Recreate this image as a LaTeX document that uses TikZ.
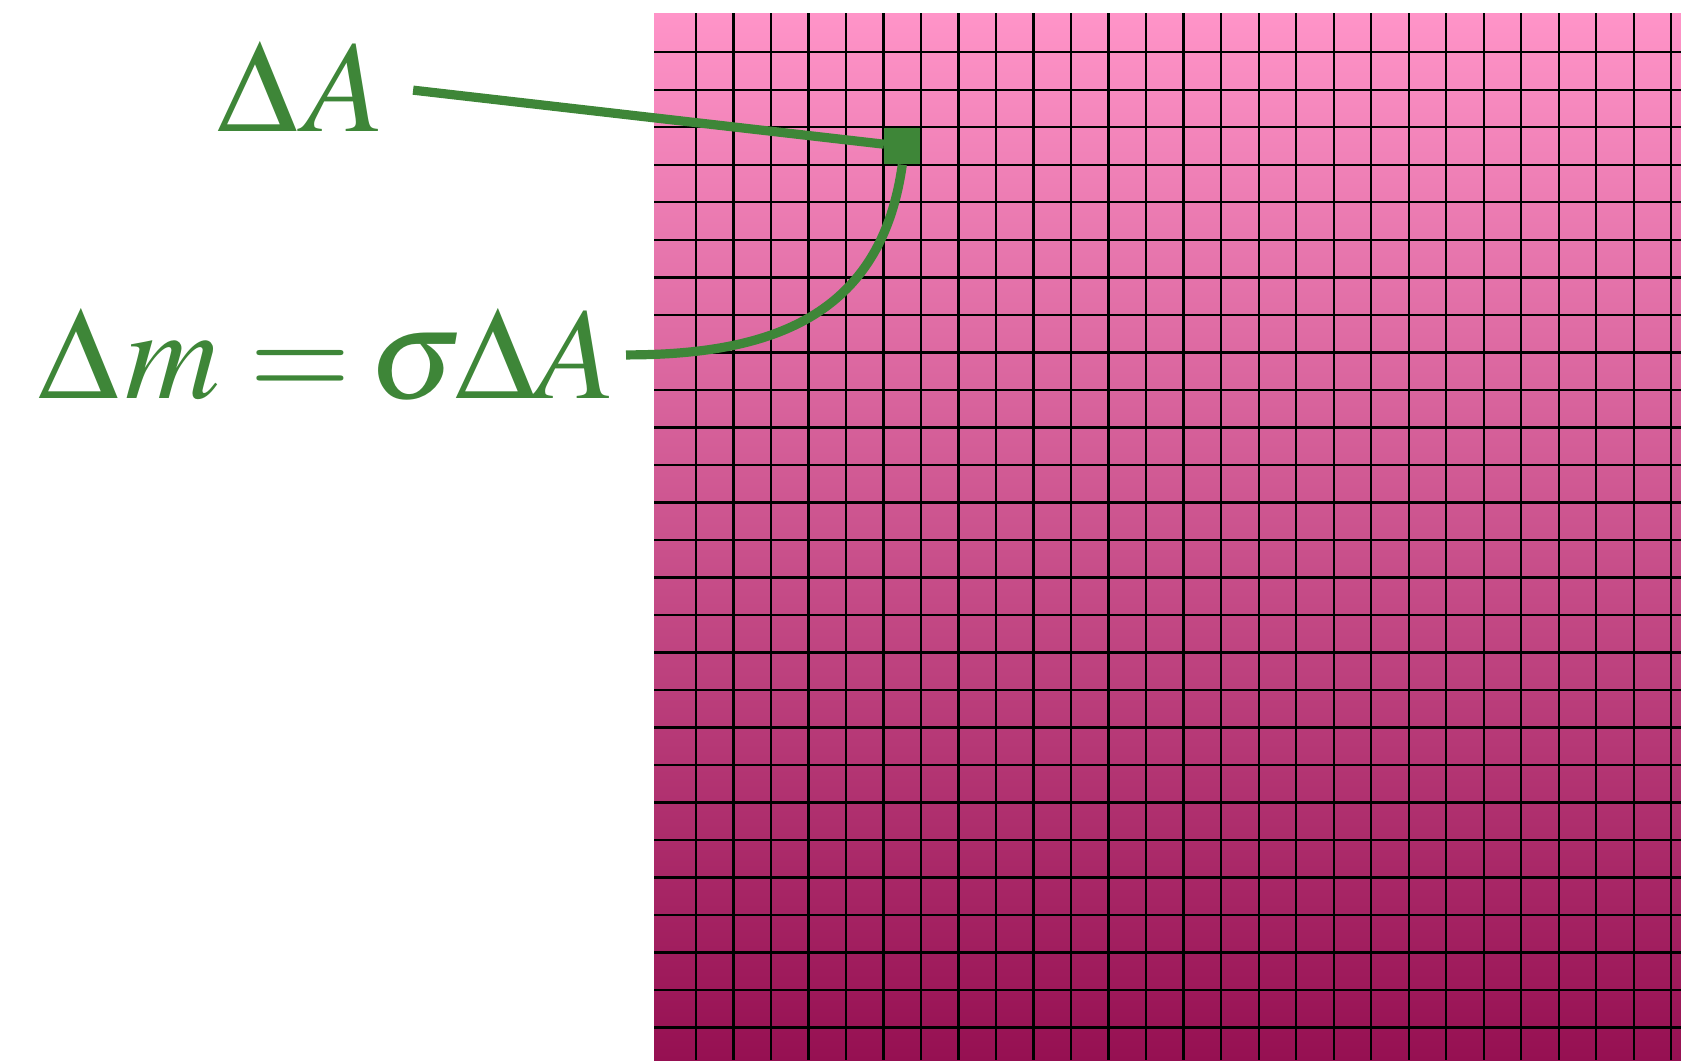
\documentclass[tikz,border=0pt]{standalone}
\usepackage{mathptmx}

\definecolor{labelgreen}{RGB}{62,134,56}
\definecolor{sheettop}{RGB}{255,148,200}
\definecolor{sheetbottom}{RGB}{150,16,82}

\begin{document}
\begin{tikzpicture}[x=0.5pt, y=0.5pt,
    % Define styles for the labels and the marked cell
    lbl/.style={text=labelgreen, font=\fontsize{65.5}{70}\selectfont, inner sep=0pt},
    cellbox/.style={rectangle, fill=labelgreen, minimum size=18pt, inner sep=0pt},
    % Define line styles
    gridline/.style={draw=black, line width=1.15pt},
    link/.style={draw=labelgreen, line width=4.6pt}
]

    % --- Configuration ---
    \def\cellW{37.51}   % Grid spacing
    \def\gridX{696}     % First vertical line
    \def\gridY{52.3}    % First horizontal line

    \useasboundingbox (0,0) rectangle (1681,-1060);

    % --- The sheet ---
    \shade[top color=sheettop, bottom color=sheetbottom] (654,-13) rectangle (1681,-1060);

    \foreach \i in {0,...,26} {
        \draw[gridline] ({\gridX+\i*\cellW},-13) -- ({\gridX+\i*\cellW},-1060);
        \draw[gridline] (654,{-\gridY-\i*\cellW}) -- (1681,{-\gridY-\i*\cellW});
    }

    % --- Marked cell ---
    \node[cellbox] (cell) at (902.3,-146.3) {};

    % --- Labels ---
    \node[lbl, anchor=base west] (dA) at (217,-131.7) {$\Delta\mkern1mu A$};
    \node[lbl, anchor=base west] (dm) at (38,-398.3) {$\Delta\mkern1mu m = \mkern-1.5mu\sigma\mkern-1mu\Delta A$};

    % --- Connections ---
    \draw[link, shorten <=14pt] (dA.east) -- (cell);
    \draw[link, shorten <=5pt] (dm.east) to[out=0, in=-98, looseness=1.15] (cell.south);

\end{tikzpicture}
\end{document}
